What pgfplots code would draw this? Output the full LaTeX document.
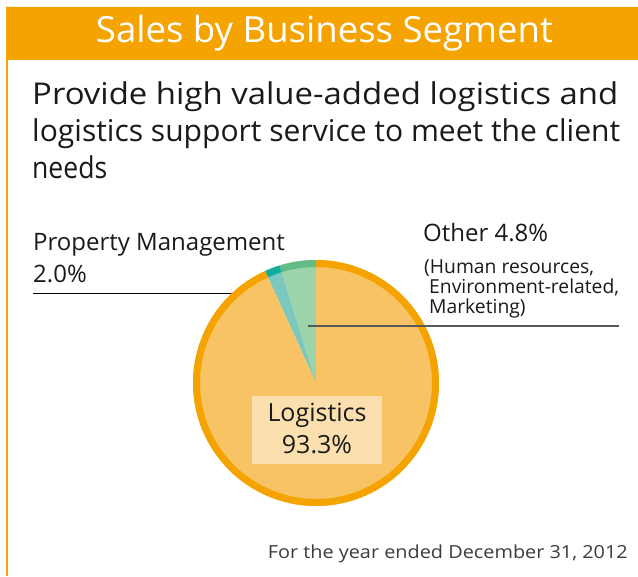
\documentclass[border=0pt]{standalone}
\usepackage{pgfplots}
\pgfplotsset{compat=1.18}
\usepackage{pgfplotstable}
\usepackage{graphicx}
\usepackage{fontspec}
\setmainfont{Open Sans}
\definecolor{barorange}{HTML}{F5A300}
\definecolor{logfill}{HTML}{F8C364}
\definecolor{logrim}{HTML}{F5A300}
\definecolor{othfill}{HTML}{9DD3A8}
\definecolor{othrim}{HTML}{63BC85}
\definecolor{pmfill}{HTML}{7CC7BE}
\definecolor{pmrim}{HTML}{12AE9C}
\definecolor{boxfill}{HTML}{FBDFAE}
\definecolor{txt}{HTML}{1A1A1A}
% pie data: order counter-clockwise from 12 o'clock
\pgfplotstableread{
seg value fillc rimc
Other 4.8 othfill othrim
Property 2.0 pmfill pmrim
Logistics 93.3 logfill logrim
}\piedata
\newcommand{\fs}[1]{\fontsize{#1bp}{#1bp}\selectfont}
\newcommand{\wline}[3]{\resizebox{#1bp}{\height}{\fs{#2}#3}}
\begin{document}
\begin{tikzpicture}
\begin{axis}[
  width=638bp, height=576bp, scale only axis,
  xmin=0, xmax=638, ymin=0, ymax=576, y dir=reverse,
  hide axis, clip=false]
\addplot[draw=none, fill=white] coordinates {(0,0) (638,0) (638,576) (0,576)} \closedcycle;
\addplot[draw=none, fill=barorange] coordinates {(6,7) (638,7) (638,60) (6,60)} \closedcycle;
\addplot[barorange, line width=1.5bp] coordinates {(7,60) (7,576)};
% leader lines
\addplot[black, line width=1bp] coordinates {(33,293) (276,293)};
\coordinate (c) at (axis cs:316,383);
\node[white, anchor=base, inner sep=0] at (axis cs:324.5,43) {\wline{457}{36}{Sales by Business Segment}};
\node[txt, anchor=base west, inner sep=0] at (axis cs:32,105) {\wline{586}{30}{Provide high value-added logistics and}};
\node[txt, anchor=base west, inner sep=0] at (axis cs:32,142) {\wline{588}{30}{logistics support service to meet the client}};
\node[txt, anchor=base west, inner sep=0] at (axis cs:32,178) {\wline{75}{30}{needs}};
\node[txt, anchor=base west, font=\fs{24}, inner sep=0] at (axis cs:33,250) {Property Management};
\node[txt, anchor=base west, font=\fs{24}, inner sep=0] at (axis cs:33,282) {2.0\%};
\node[txt, anchor=base west, font=\fs{24}, inner sep=0] at (axis cs:423,241) {Other 4.8\%};
\node[txt, anchor=base west, font=\fs{19.3}, inner sep=0] at (axis cs:424,273) {(Human resources,};
\node[txt, anchor=base west, font=\fs{19.3}, inner sep=0] at (axis cs:429,293) {Environment-related,};
\node[txt, anchor=base west, font=\fs{19.3}, inner sep=0] at (axis cs:429,313) {Marketing)};
\node[txt!85, anchor=base east, inner sep=0] at (axis cs:628,558) {\wline{360}{18}{For the year ended December 31, 2012}};
\coordinate (boxA) at (axis cs:252,396);
\coordinate (boxB) at (axis cs:382,464);
\coordinate (logA) at (axis cs:317,422);
\coordinate (logB) at (axis cs:317,454);
\coordinate (othA) at (axis cs:308,326);
\coordinate (othB) at (axis cs:619,326);
\end{axis}
% pie slices from the table, centred on the axis point (c)
\pgfplotstablegetrowsof{\piedata}
\pgfmathtruncatemacro{\nrows}{\pgfplotsretval-1}
\def\total{0}
\foreach \i in {0,...,\nrows}{
  \pgfplotstablegetelem{\i}{value}\of{\piedata}
  \pgfmathsetmacro{\t}{\total+\pgfplotsretval}
  \global\let\total\t
}
\def\acc{90}
\foreach \i in {0,...,\nrows}{
  \pgfplotstablegetelem{\i}{value}\of{\piedata}\let\v\pgfplotsretval
  \pgfplotstablegetelem{\i}{fillc}\of{\piedata}\let\fc\pgfplotsretval
  \pgfplotstablegetelem{\i}{rimc}\of{\piedata}\let\rc\pgfplotsretval
  \pgfmathsetmacro{\aone}{\acc}
  \pgfmathsetmacro{\atwo}{\acc+\v/\total*360}
  \fill[\fc] (c) -- ++(\aone:123bp) arc[start angle=\aone, end angle=\atwo, radius=123bp] -- cycle;
  \draw[\rc, line width=7bp] ([shift={(\aone:119.5bp)}]c) arc[start angle=\aone, end angle=\atwo, radius=119.5bp];
  \global\let\acc\atwo
}
\draw[black!65, line width=1.3bp] (othA) -- (othB);
\fill[boxfill] (boxA) rectangle (boxB);
\node[txt, anchor=base, font=\fs{25}, inner sep=0] at (logA) {Logistics};
\node[txt, anchor=base, font=\fs{25}, inner sep=0] at (logB) {93.3\%};
\end{tikzpicture}
\end{document}
